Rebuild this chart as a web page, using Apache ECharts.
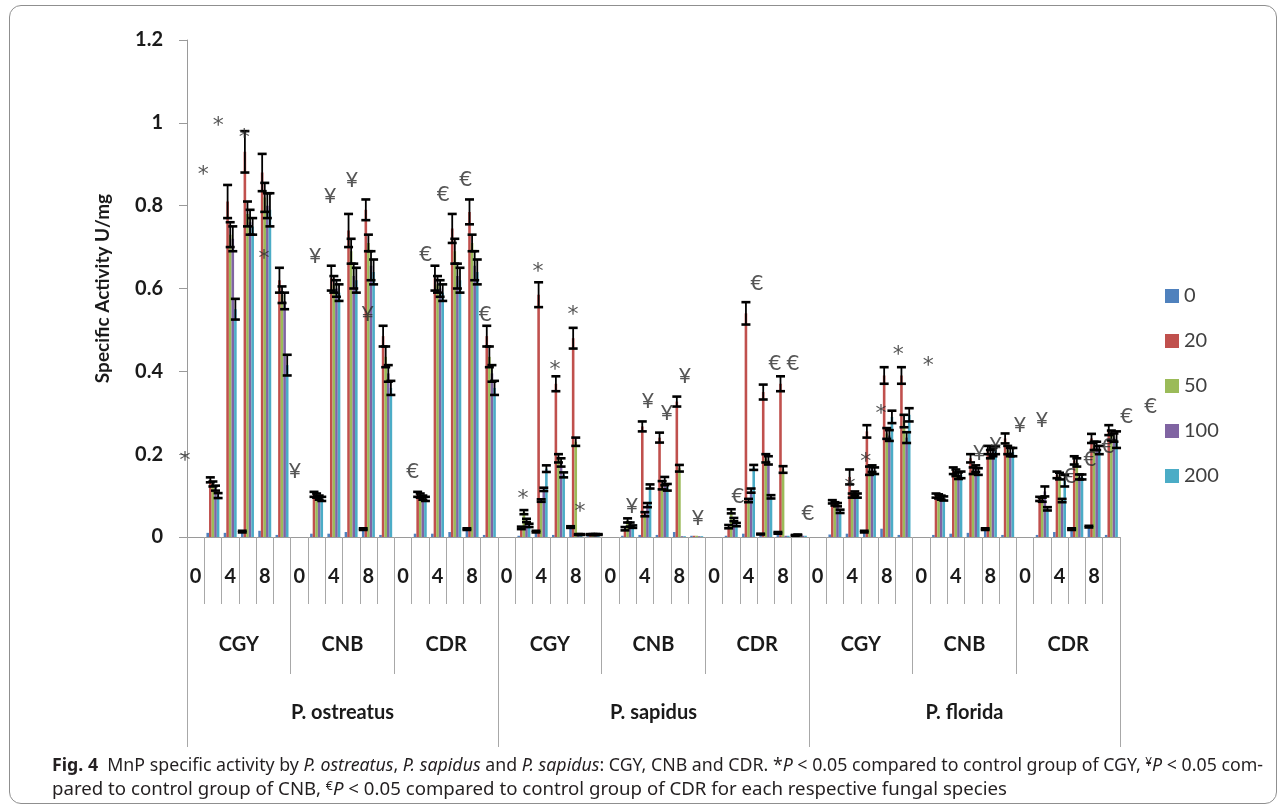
<!DOCTYPE html>
<html>
<head>
<meta charset="utf-8">
<script src="https://cdn.jsdelivr.net/npm/echarts@6/dist/echarts.min.js"></script>
<style>
html,body{margin:0;padding:0;background:#fff;}
#wrap{position:relative;width:1284px;height:808px;}
#main{width:1284px;height:808px;}
#frame{position:absolute;left:9px;top:5px;width:1266px;height:797px;border:1px solid #8f8f8f;border-radius:12px;pointer-events:none;}
</style>
</head>
<body>
<div id="wrap"><div id="main"></div><div id="frame"></div></div>
<script>
// ---------- data ----------
const dayLabels = ['0', '', '4', '', '8', ''];
const media = ['CGY', 'CNB', 'CDR'];
const species = ['P. ostreatus', 'P. sapidus', 'P. florida'];
const seriesNames = ['0', '20', '50', '100', '200'];
const seriesColors = ['#4F81BD', '#C0504D', '#9BBB59', '#8064A2', '#4BACC6'];
const yTicks = { min: 0, max: 1.2, interval: 0.2 };

// rows: P.o. CGY, CNB, CDR | P.s. CGY, CNB, CDR | P.f. CGY, CNB, CDR
const s0 = [
  null,0.010,0.010,0.013,0.015,0.005,
  null,0.008,0.008,0.012,0.019,0.005,
  null,0.008,0.008,0.012,0.019,0.005,
  null,0.003,0.013,0.005,0.024,0.002,
  null,0.003,0.005,0.005,0.012,0.003,
  null,0.003,0.008,0.007,0.010,0.004,
  null,0.006,0.008,0.013,0.020,0.005,
  null,0.005,0.008,0.010,0.019,0.005,
  null,0.005,0.012,0.019,0.025,0.005
];
const e0 = [
  null,null,null,0.002,null,null,
  null,null,null,null,0.002,null,
  null,null,null,null,0.002,null,
  null,null,0.002,null,0.002,null,
  null,null,null,null,null,null,
  null,null,null,0.001,0.002,0.001,
  null,null,null,0.002,null,null,
  null,null,null,null,0.002,null,
  null,null,null,0.002,0.002,null
];
const s20 = [
  null,0.138,0.810,0.930,0.880,0.620,
  null,0.103,0.625,0.740,0.790,0.485,
  null,0.103,0.625,0.745,0.785,0.485,
  null,0.022,0.585,0.370,0.480,0.006,
  null,0.020,0.267,0.240,0.327,0.003,
  null,0.025,0.540,0.350,0.370,0.005,
  null,0.085,0.145,0.255,0.390,0.390,
  null,0.100,0.160,0.190,0.210,0.238,
  null,0.092,0.150,0.185,0.238,0.258
];
const e20 = [
  null,0.006,0.040,0.050,0.045,0.030,
  null,0.006,0.030,0.040,0.025,0.025,
  null,0.006,0.030,0.035,0.030,0.025,
  null,0.003,0.030,0.018,0.025,0.001,
  null,0.004,0.012,0.012,0.012,null,
  null,0.004,0.027,0.018,0.018,0.001,
  null,0.004,0.018,0.015,0.020,0.020,
  null,0.005,0.008,0.010,0.010,0.012,
  null,0.005,0.008,0.010,0.011,0.012
];
const s50 = [
  null,0.128,0.730,0.780,0.820,0.585,
  null,0.100,0.610,0.690,0.710,0.435,
  null,0.100,0.610,0.690,0.710,0.435,
  null,0.060,0.088,0.190,0.230,0.006,
  null,0.040,0.055,0.125,0.166,0.003,
  null,0.062,0.088,0.190,0.163,0.004,
  null,0.080,0.100,0.160,0.250,0.280,
  null,0.098,0.155,0.160,0.200,0.210,
  null,0.090,0.147,0.180,0.220,0.245
];
const e50 = [
  null,0.006,0.030,0.030,0.035,0.020,
  null,0.005,0.020,0.030,0.020,0.025,
  null,0.005,0.020,0.030,0.020,0.025,
  null,0.005,0.003,0.010,0.010,0.001,
  null,0.005,0.005,0.010,0.008,null,
  null,0.005,0.004,0.010,0.008,null,
  null,0.004,0.005,0.010,0.013,0.015,
  null,0.005,0.008,0.008,0.010,0.010,
  null,0.005,0.008,0.010,0.010,0.012
];
const s100 = [
  null,0.118,0.720,0.760,0.800,0.570,
  null,0.095,0.600,0.630,0.655,0.395,
  null,0.095,0.600,0.630,0.655,0.395,
  null,0.040,0.115,0.180,0.006,0.006,
  null,0.030,0.077,0.135,0.002,0.002,
  null,0.042,0.112,0.185,0.003,0.003,
  null,0.078,0.105,0.165,0.245,0.240,
  null,0.095,0.148,0.165,0.205,0.205,
  null,0.110,0.088,0.145,0.220,0.240
];
const e100 = [
  null,0.006,0.030,0.030,0.030,0.020,
  null,0.005,0.020,0.030,0.035,0.020,
  null,0.005,0.020,0.030,0.035,0.020,
  null,0.004,0.004,0.010,0.001,0.001,
  null,0.005,0.005,0.010,null,null,
  null,0.004,0.005,0.010,null,null,
  null,0.004,0.005,0.008,0.013,0.013,
  null,0.005,0.008,0.008,0.010,0.010,
  null,0.012,0.004,0.006,0.010,0.010
];
const s200 = [
  null,0.100,0.550,0.750,0.790,0.415,
  null,0.092,0.590,0.620,0.640,0.360,
  null,0.092,0.590,0.620,0.640,0.360,
  null,0.028,0.165,0.150,0.006,0.006,
  null,0.025,0.122,0.120,0.002,0.002,
  null,0.030,0.168,0.097,0.003,0.003,
  null,0.062,0.100,0.160,0.290,0.295,
  null,0.093,0.150,0.158,0.210,0.205,
  null,0.068,0.136,0.145,0.210,0.235
];
const e200 = [
  null,0.006,0.025,0.020,0.040,0.025,
  null,0.005,0.020,0.030,0.030,0.017,
  null,0.005,0.020,0.030,0.030,0.017,
  null,0.004,0.008,0.006,0.001,0.001,
  null,0.003,0.005,0.008,null,null,
  null,0.004,0.006,0.004,null,null,
  null,0.004,0.005,0.008,0.015,0.016,
  null,0.005,0.008,0.008,0.010,0.010,
  null,0.004,0.014,0.006,0.010,0.020
];

// significance marks: [position along the category axis (in category units), value, mark]
const marks = [
  [-0.12,0.198,'*'],[0.94,0.888,'*'],[1.81,1.005,'*'],[3.32,0.977,'*'],[4.46,0.685,'*'],
  [6.25,0.162,'¥'],[7.41,0.680,'¥'],[8.28,0.825,'¥'],[9.55,0.864,'¥'],[10.45,0.542,'¥'],
  [13.06,0.162,'€'],[13.81,0.685,'€'],[14.83,0.832,'€'],[16.13,0.868,'€'],[17.25,0.541,'€'],
  [19.44,0.106,'*'],[20.31,0.653,'*'],[21.30,0.416,'*'],[22.34,0.549,'*'],[22.74,0.073,'*'],
  [25.75,0.077,'¥'],[26.68,0.331,'¥'],[27.78,0.302,'¥'],[28.82,0.392,'¥'],[29.57,0.048,'¥'],
  [31.89,0.102,'€'],[32.99,0.615,'€'],[34.03,0.423,'€'],[35.07,0.423,'€'],[35.94,0.060,'€'],
  [38.37,0.134,'*'],[39.29,0.196,'*'],[40.16,0.310,'*'],[41.16,0.454,'*'],[42.90,0.427,'*'],
  [45.85,0.206,'¥'],[46.80,0.225,'¥'],[48.20,0.273,'¥'],[49.48,0.285,'¥'],
  [51.10,0.150,'€'],[52.26,0.190,'€'],[53.30,0.223,'€'],[54.38,0.295,'€'],[55.77,0.319,'€']
];

const captionLine1 = [
  ['b','Fig. 4'],['n','  MnP specific activity by '],['i','P. ostreatus'],['n',', '],
  ['i','P. sapidus'],['n',' and '],['i','P. sapidus'],['n',': CGY, CNB and CDR. *'],
  ['i','P'],['n',' < 0.05 compared to control group of CGY, '],['s','¥'],['i','P'],['n',' < 0.05 com-']
];
const captionLine2 = [
  ['n','pared to control group of CNB, '],['s','€'],['i','P'],
  ['n',' < 0.05 compared to control group of CDR for each respective fungal species']
];

// ---------- build ----------
const values = [s0, s20, s50, s100, s200];
const errors = [e0, e20, e50, e100, e200];
const dayCats = [], mediumCats = [];
species.forEach(sp => media.forEach(m => {
  mediumCats.push(m);
  dayLabels.forEach(d => dayCats.push(d));
}));
const nCats = dayCats.length;

const FONT = 'Lato, "Open Sans", sans-serif';
const txt = '#1a1a1a';
const CAT_GAP = 0.25;

const errData = [];
values.forEach((arr, s) => arr.forEach((v, i) => {
  const e = errors[s][i];
  if (v != null && e != null) errData.push([i, v, e, s]);
}));

const barSeries = seriesNames.map((n, s) => ({
  name: n, type: 'bar', xAxisIndex: 0, yAxisIndex: 0,
  data: values[s], barGap: '0%', barCategoryGap: (CAT_GAP * 100) + '%',
  itemStyle: { color: seriesColors[s] }, emphasis: { disabled: true }
}));

const errSeries = {
  type: 'custom', xAxisIndex: 0, yAxisIndex: 0, z: 10, silent: true,
  data: errData, encode: { x: 0, y: 1 },
  renderItem: function (params, api) {
    const i = api.value(0), v = api.value(1), e = api.value(2), s = api.value(3);
    const band = api.size([1, 0])[0];
    const cw = band * (1 - CAT_GAP), bw = cw / seriesNames.length;
    const c = api.coord([i, v]);
    const x = c[0] - cw / 2 + (s + 0.5) * bw;
    const yT = api.coord([i, v + e])[1];
    const yB = api.coord([i, Math.max(0, v - e)])[1];
    const hw = 4.5;
    return {
      type: 'group', children: [
        { type: 'line', shape: { x1: x, y1: yT, x2: x, y2: yB }, style: { stroke: '#000', lineWidth: 1.8 } },
        { type: 'line', shape: { x1: x - hw, y1: yT, x2: x + hw, y2: yT }, style: { stroke: '#000', lineWidth: 2.6 } },
        { type: 'line', shape: { x1: x - hw, y1: yB, x2: x + hw, y2: yB }, style: { stroke: '#000', lineWidth: 2.6 } }
      ]
    };
  }
};

const markSeries = {
  type: 'scatter', xAxisIndex: 3, yAxisIndex: 0, z: 12, silent: true, clip: false,
  symbolSize: 1, itemStyle: { color: 'rgba(0,0,0,0)' },
  data: marks.map(m => ({
    name: m[2], value: [m[0], m[1]],
    label: m[2] === '*'
      ? { offset: [0, 6], fontFamily: '"DejaVu Sans", sans-serif', fontSize: 22 }
      : { offset: [0, 1] }
  })),
  label: {
    show: true, position: 'inside', formatter: '{b}',
    fontFamily: FONT, fontSize: 22, color: '#2a2a2a'
  }
};

const chart = echarts.init(document.getElementById('main'));

// caption width fitting
const ctx = document.createElement('canvas').getContext('2d');
const CAP_SIZE = 18, CAP_FAM = '"Noto Sans", sans-serif';
const fontOf = k => k === 'b' ? `bold ${CAP_SIZE}px ${CAP_FAM}` :
  k === 'i' ? `italic ${CAP_SIZE}px ${CAP_FAM}` :
  k === 's' ? `12px ${CAP_FAM}` : `${CAP_SIZE}px ${CAP_FAM}`;
function measure(segs) {
  let w = 0;
  segs.forEach(([k, t]) => { ctx.font = fontOf(k); w += ctx.measureText(t).width; });
  return w;
}
function richStr(segs) {
  return segs.map(([k, t]) => k === 'n' ? t : `{${k}|${t}}`).join('');
}
const richDef = {
  b: { fontWeight: 'bold', fontSize: CAP_SIZE, fontFamily: CAP_FAM, fill: '#231f20' },
  i: { fontStyle: 'italic', fontSize: CAP_SIZE, fontFamily: CAP_FAM, fill: '#231f20' },
  s: { fontSize: 12, fontFamily: CAP_FAM, fill: '#231f20', verticalAlign: 'top' }
};
function capText(segs, y, width) {
  return {
    type: 'text', x: 52, y: y, scaleX: width / measure(segs), silent: true,
    style: {
      text: richStr(segs), rich: richDef, fontSize: CAP_SIZE, fontFamily: CAP_FAM,
      fill: '#231f20', align: 'left', verticalAlign: 'middle'
    }
  };
}

const option = {
  animation: false,
  backgroundColor: '#fff',
  grid: { left: 187, right: 164, top: 40, bottom: 271 },
  legend: {
    data: seriesNames, orient: 'vertical', left: 1160, top: 281,
    itemWidth: 14, itemHeight: 14, itemGap: 25, icon: 'rect',
    textStyle: { fontFamily: FONT, fontSize: 20, color: '#404040' },
    selectedMode: false
  },
  xAxis: [
    {
      type: 'category', data: dayCats, position: 'bottom',
      axisLine: { show: true, lineStyle: { color: '#9a9a9a' } },
      axisTick: { show: true, interval: 0, length: 67, lineStyle: { color: '#a8a8a8' } },
      axisLabel: { interval: 0, margin: 30, fontFamily: FONT, fontWeight: 'bold', fontSize: 20, color: txt },
      splitLine: { show: false }
    },
    {
      type: 'category', data: mediumCats, position: 'bottom',
      axisLine: { show: false },
      axisTick: { show: true, interval: 0, length: 137, lineStyle: { color: '#a8a8a8' } },
      axisLabel: { interval: 0, margin: 98, fontFamily: FONT, fontWeight: 'bold', fontSize: 20, color: txt },
      splitLine: { show: false }
    },
    {
      type: 'category', data: species, position: 'bottom',
      axisLine: { show: false },
      axisTick: { show: true, interval: 0, length: 210, lineStyle: { color: '#a8a8a8' } },
      axisLabel: { interval: 0, margin: 166, fontFamily: FONT, fontWeight: 'bold', fontSize: 20, color: txt },
      splitLine: { show: false }
    },
    { type: 'value', min: 0, max: nCats, show: false }
  ],
  yAxis: {
    type: 'value', min: yTicks.min, max: yTicks.max, interval: yTicks.interval,
    axisLine: { show: true, lineStyle: { color: '#9a9a9a' } },
    axisTick: { show: true, length: 8, lineStyle: { color: '#9a9a9a' } },
    splitLine: { show: false },
    axisLabel: { margin: 24, fontFamily: FONT, fontWeight: 'bold', fontSize: 20, color: txt },
    name: 'Specific Activity U/mg', nameLocation: 'middle', nameGap: 75,
    nameTextStyle: { fontFamily: FONT, fontWeight: 'bold', fontSize: 19, color: txt }
  },
  graphic: [
    capText(captionLine1, 766, 1211),
    capText(captionLine2, 790, 955)
  ],
  series: [...barSeries, errSeries, markSeries]
};
chart.setOption(option);
</script>
</body>
</html>
